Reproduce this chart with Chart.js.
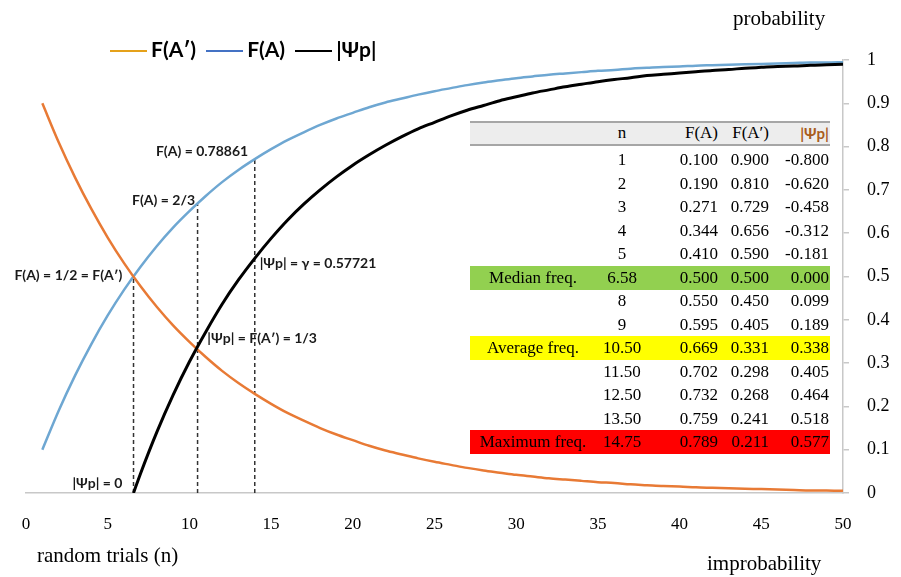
<!DOCTYPE html>
<html>
<head>
<meta charset="utf-8">
<script src="https://cdn.jsdelivr.net/npm/chart.js@4"></script>
<style>
  body { margin: 0; background: #fff; }
  #wrap { position: relative; width: 901px; height: 577px; overflow: hidden; font-family: "Liberation Serif", "Times New Roman", serif; }
  #chart { position: absolute; left: 0; top: 0; }
  .txt { position: absolute; font-size: 21px; line-height: 24px; color: #000; white-space: nowrap; }
  #legend { position: absolute; left: 110px; top: 36px; font-family: Lato, "Open Sans", sans-serif; font-weight: bold; font-size: 21px; white-space: nowrap; }
  #legend span.item { display: inline-block; margin-right: 10px; }
  #legend i { display: inline-block; width: 37px; height: 2px; vertical-align: middle; margin-right: 4px; position: relative; top: -1px; }
  #table { position: absolute; left: 470px; top: 121px; width: 360px; font-size: 17px; }
  .row { position: absolute; left: 0; width: 360px; height: 24px; }
  .row span { position: absolute; top: 1px; line-height: 22px; }
  .head { top: 0; height: 21px; background: #ededed; border-top: 2px solid #a6a6a6; border-bottom: 2px solid #a6a6a6; }
  .head span { top: -1px; }
  .c0 { left: 0; width: 126px; text-align: center; }
  .c1 { left: 122px; width: 60px; text-align: center; }
  .c2 { right: 112px; text-align: right; }
  .c3 { right: 61px; text-align: right; }
  .c4 { right: 1px; text-align: right; }
  .psiHead { font-family: Lato, sans-serif; font-weight: bold; font-size: 15px; color: #a95c1c; }
</style>
</head>
<body>
<div id="wrap">
  <canvas id="chart" width="901" height="577"></canvas>
  <div id="legend"></div>
  <div class="txt" style="left:733px; top:6px;">probability</div>
  <div class="txt" style="left:707px; top:551px;">improbability</div>
  <div class="txt" style="left:37px; top:543px;">random trials (n)</div>
  <div id="table"></div>
</div>
<script>
// trials n = 1..50
const trials = [1, 2, 3, 4, 5, 6, 7, 8, 9, 10, 11, 12, 13, 14, 15, 16, 17, 18, 19, 20,
  21, 22, 23, 24, 25, 26, 27, 28, 29, 30, 31, 32, 33, 34, 35, 36, 37, 38, 39, 40,
  41, 42, 43, 44, 45, 46, 47, 48, 49, 50];

// F(A') - orange, falling
const faPrime = [0.900, 0.810, 0.729, 0.656, 0.590, 0.531, 0.478, 0.430, 0.387, 0.349,
  0.314, 0.282, 0.254, 0.229, 0.206, 0.185, 0.167, 0.150, 0.135, 0.122,
  0.109, 0.098, 0.089, 0.080, 0.072, 0.065, 0.058, 0.052, 0.047, 0.042,
  0.038, 0.034, 0.031, 0.028, 0.025, 0.023, 0.020, 0.018, 0.016, 0.015,
  0.013, 0.012, 0.011, 0.010, 0.009, 0.008, 0.007, 0.006, 0.006, 0.005];

// F(A) - blue, rising
const fa = [0.100, 0.190, 0.271, 0.344, 0.410, 0.469, 0.522, 0.570, 0.613, 0.651,
  0.686, 0.718, 0.746, 0.771, 0.794, 0.815, 0.833, 0.850, 0.865, 0.878,
  0.891, 0.902, 0.911, 0.920, 0.928, 0.935, 0.942, 0.948, 0.953, 0.958,
  0.962, 0.966, 0.969, 0.972, 0.975, 0.977, 0.980, 0.982, 0.984, 0.985,
  0.987, 0.988, 0.989, 0.990, 0.991, 0.992, 0.993, 0.994, 0.994, 0.995];

// |Psi p| - black, starts at the median frequency
const psiTrials = [6.58, 7, 8, 9, 10, 11, 12, 13, 14, 15, 16, 17, 18, 19, 20,
  21, 22, 23, 24, 25, 26, 27, 28, 29, 30, 31, 32, 33, 34, 35, 36, 37, 38, 39, 40,
  41, 42, 43, 44, 45, 46, 47, 48, 49, 50];
const psi = [0.000, 0.044, 0.140, 0.226, 0.303, 0.372, 0.436, 0.492, 0.542, 0.588,
  0.630, 0.667, 0.700, 0.730, 0.757, 0.781, 0.803, 0.823, 0.841, 0.856,
  0.871, 0.884, 0.895, 0.906, 0.915, 0.924, 0.931, 0.938, 0.944, 0.950,
  0.955, 0.959, 0.964, 0.967, 0.970, 0.973, 0.976, 0.978, 0.981, 0.983,
  0.985, 0.986, 0.988, 0.989, 0.990];

// dashed drop lines
const markerN = [6.58, 10.5, 14];
const markerTop = [0.5, 0.667, 0.771];

// table
const tableLabels = ['', '', '', '', '', 'Median freq.', '', '', 'Average freq.', '', '', '', 'Maximum freq.'];
const tableN = ['1', '2', '3', '4', '5', '6.58', '8', '9', '10.50', '11.50', '12.50', '13.50', '14.75'];
const tableFA = ['0.100', '0.190', '0.271', '0.344', '0.410', '0.500', '0.550', '0.595', '0.669', '0.702', '0.732', '0.759', '0.789'];
const tableFAPrime = ['0.900', '0.810', '0.729', '0.656', '0.590', '0.500', '0.450', '0.405', '0.331', '0.298', '0.268', '0.241', '0.211'];
const tablePsi = ['-0.800', '-0.620', '-0.458', '-0.312', '-0.181', '0.000', '0.099', '0.189', '0.338', '0.405', '0.464', '0.518', '0.577'];

const rowColors = { 5: '#92d050', 8: '#ffff00', 12: '#ff0000' };

const notes = [
  { text: 'F(A) = 0.78861', n: 13.6, p: 0.789, align: 'right' },
  { text: 'F(A) = 2/3', n: 10.35, p: 0.675, align: 'right' },
  { text: 'F(A) = 1/2 = F(A\u2032)', n: 5.9, p: 0.503, align: 'right' },
  { text: '|\u03a8p| = \u03b3 = 0.57721', n: 14.3, p: 0.531, align: 'left' },
  { text: '|\u03a8p| = F(A\u2032) = 1/3', n: 11.1, p: 0.356, align: 'left' },
  { text: '|\u03a8p| = 0', n: 5.9, p: 0.021, align: 'right' }
];

function toPoints(xs, ys) {
  return xs.map((x, i) => ({ x: x, y: ys[i] }));
}

function buildLegend() {
  const items = [
    { label: 'F(A\u2032)', color: '#e5a11a' },
    { label: 'F(A)', color: '#4472c4' },
    { label: '|\u03a8p|', color: '#000' }
  ];
  document.getElementById('legend').innerHTML = items.map(it =>
    `<span class="item"><i style="background:${it.color}"></i>${it.label}</span>`).join('');
}

function buildTable() {
  let html = `<div class="row head">
      <span class="c1" style="top:-1px">n</span>
      <span class="c2">F(A)</span>
      <span class="c3">F(A\u2032)</span>
      <span class="c4 psiHead">|\u03a8p|</span>
    </div>`;
  tableN.forEach((n, i) => {
    const top = 27 + i * 23.5;
    const bg = rowColors[i] ? `background:${rowColors[i]};` : '';
    html += `<div class="row" style="top:${top}px;${bg}">
        <span class="c0">${tableLabels[i]}</span>
        <span class="c1">${n}</span>
        <span class="c2">${tableFA[i]}</span>
        <span class="c3">${tableFAPrime[i]}</span>
        <span class="c4">${tablePsi[i]}</span>
      </div>`;
  });
  document.getElementById('table').innerHTML = html;
}

const notesPlugin = {
  id: 'notes',
  afterDatasetsDraw(chart) {
    const { ctx, scales: { x, y } } = chart;
    ctx.save();
    ctx.font = 'bold 14px Lato, "Open Sans", sans-serif';
    ctx.fillStyle = '#1a1a1a';
    ctx.textBaseline = 'middle';
    notes.forEach(nt => {
      ctx.textAlign = nt.align;
      ctx.fillText(nt.text, x.getPixelForValue(nt.n), y.getPixelForValue(nt.p));
    });
    ctx.restore();
  }
};

const dropLines = markerN.map((n, i) => ({
  data: [{ x: n, y: 0 }, { x: n, y: markerTop[i] }],
  borderColor: '#333',
  borderWidth: 1.5,
  borderDash: [4, 3],
  pointRadius: 0,
  tension: 0
}));

new Chart(document.getElementById('chart'), {
  type: 'line',
  data: {
    datasets: [
      { label: '|\u03a8p|', data: toPoints(psiTrials, psi), borderColor: '#000', borderWidth: 3, pointRadius: 0, cubicInterpolationMode: 'monotone' },
      { label: 'F(A\u2032)', data: toPoints(trials, faPrime), borderColor: '#e87a35', borderWidth: 2.5, pointRadius: 0, cubicInterpolationMode: 'monotone' },
      { label: 'F(A)', data: toPoints(trials, fa), borderColor: '#6ea7d2', borderWidth: 2.5, pointRadius: 0, cubicInterpolationMode: 'monotone' },
      ...dropLines
    ]
  },
  options: {
    responsive: false,
    animation: false,
    layout: { padding: { top: 60, left: 26, right: 0, bottom: 0 } },
    plugins: { legend: { display: false }, tooltip: { enabled: false } },
    scales: {
      x: {
        type: 'linear',
        min: 0, max: 50,
        ticks: { stepSize: 5, color: '#000', padding: 21, font: { family: '"Liberation Serif", "Times New Roman", serif', size: 17 } },
        grid: { display: false, drawTicks: false },
        border: { display: true, color: '#c8c8c8', width: 1.5 },
        afterFit(scale) { scale.height = 84; }
      },
      y: {
        position: 'right',
        min: 0, max: 1,
        ticks: {
          stepSize: 0.1, color: '#000', padding: 18,
          font: { family: '"Liberation Serif", "Times New Roman", serif', size: 18 },
          callback: v => String(Number(v.toFixed(1)))
        },
        grid: { drawOnChartArea: false, drawTicks: true, tickLength: 6, color: '#c8c8c8', lineWidth: 1.5 },
        border: { display: true, color: '#c8c8c8', width: 1.5 },
        afterFit(scale) { scale.width = 58; }
      }
    }
  },
  plugins: [notesPlugin]
});

buildLegend();
buildTable();
</script>
</body>
</html>
